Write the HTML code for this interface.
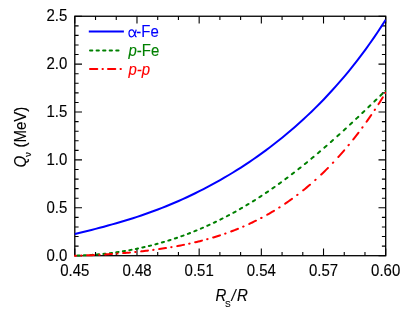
<!DOCTYPE html>
<html><head><meta charset="utf-8"><style>
html,body{margin:0;padding:0;background:#fff;}
svg{display:block;will-change:transform;opacity:0.999}
text{font-family:"Liberation Sans",sans-serif;font-size:15px;stroke:#000;stroke-width:0.12px}
</style></head><body>
<svg width="415" height="320" viewBox="0 0 415 320">
<path d="M74.80,255.7 v-7.2 M74.80,16.25 v7.2 M95.53,255.7 v-3.8 M95.53,16.25 v3.8 M116.25,255.7 v-3.8 M116.25,16.25 v3.8 M136.98,255.7 v-7.2 M136.98,16.25 v7.2 M157.71,255.7 v-3.8 M157.71,16.25 v3.8 M178.43,255.7 v-3.8 M178.43,16.25 v3.8 M199.16,255.7 v-7.2 M199.16,16.25 v7.2 M219.89,255.7 v-3.8 M219.89,16.25 v3.8 M240.61,255.7 v-3.8 M240.61,16.25 v3.8 M261.34,255.7 v-7.2 M261.34,16.25 v7.2 M282.07,255.7 v-3.8 M282.07,16.25 v3.8 M302.79,255.7 v-3.8 M302.79,16.25 v3.8 M323.52,255.7 v-7.2 M323.52,16.25 v7.2 M344.25,255.7 v-3.8 M344.25,16.25 v3.8 M364.97,255.7 v-3.8 M364.97,16.25 v3.8 M385.70,255.7 v-7.2 M385.70,16.25 v7.2 M74.8,255.70 h7.2 M385.7,255.70 h-7.2 M74.8,246.12 h3.8 M385.7,246.12 h-3.8 M74.8,236.54 h3.8 M385.7,236.54 h-3.8 M74.8,226.97 h3.8 M385.7,226.97 h-3.8 M74.8,217.39 h3.8 M385.7,217.39 h-3.8 M74.8,207.81 h7.2 M385.7,207.81 h-7.2 M74.8,198.23 h3.8 M385.7,198.23 h-3.8 M74.8,188.65 h3.8 M385.7,188.65 h-3.8 M74.8,179.08 h3.8 M385.7,179.08 h-3.8 M74.8,169.50 h3.8 M385.7,169.50 h-3.8 M74.8,159.92 h7.2 M385.7,159.92 h-7.2 M74.8,150.34 h3.8 M385.7,150.34 h-3.8 M74.8,140.76 h3.8 M385.7,140.76 h-3.8 M74.8,131.19 h3.8 M385.7,131.19 h-3.8 M74.8,121.61 h3.8 M385.7,121.61 h-3.8 M74.8,112.03 h7.2 M385.7,112.03 h-7.2 M74.8,102.45 h3.8 M385.7,102.45 h-3.8 M74.8,92.87 h3.8 M385.7,92.87 h-3.8 M74.8,83.30 h3.8 M385.7,83.30 h-3.8 M74.8,73.72 h3.8 M385.7,73.72 h-3.8 M74.8,64.14 h7.2 M385.7,64.14 h-7.2 M74.8,54.56 h3.8 M385.7,54.56 h-3.8 M74.8,44.98 h3.8 M385.7,44.98 h-3.8 M74.8,35.41 h3.8 M385.7,35.41 h-3.8 M74.8,25.83 h3.8 M385.7,25.83 h-3.8 M74.8,16.25 h7.2 M385.7,16.25 h-7.2" fill="none" stroke="#000" stroke-width="1.1"/>
<rect x="74.8" y="16.25" width="310.90" height="239.45" fill="none" stroke="#000" stroke-width="1.3"/>
<clipPath id="c"><rect x="74.20" y="0" width="311.75" height="320"/></clipPath><g clip-path="url(#c)">
<path d="M74.80,234.03 L78.95,233.02 L83.10,232.00 L87.26,230.97 L91.41,229.93 L95.56,228.87 L99.71,227.79 L103.87,226.69 L108.02,225.56 L112.17,224.41 L116.32,223.23 L120.47,222.02 L124.63,220.78 L128.78,219.50 L132.93,218.19 L137.08,216.84 L141.24,215.45 L145.39,214.02 L149.54,212.54 L153.69,211.03 L157.85,209.47 L162.00,207.86 L166.15,206.21 L170.30,204.51 L174.45,202.76 L178.61,200.96 L182.76,199.12 L186.91,197.22 L191.06,195.27 L195.22,193.27 L199.37,191.21 L203.52,189.10 L207.67,186.94 L211.82,184.72 L215.98,182.44 L220.13,180.10 L224.28,177.71 L228.43,175.26 L232.59,172.75 L236.74,170.17 L240.89,167.54 L245.04,164.84 L249.19,162.07 L253.35,159.24 L257.50,156.35 L261.65,153.38 L265.80,150.34 L269.96,147.23 L274.11,144.05 L278.26,140.79 L282.41,137.45 L286.56,134.03 L290.72,130.53 L294.87,126.94 L299.02,123.26 L303.17,119.49 L307.33,115.63 L311.48,111.67 L315.63,107.61 L319.78,103.45 L323.94,99.18 L328.09,94.80 L332.24,90.30 L336.39,85.68 L340.54,80.93 L344.70,76.06 L348.85,71.05 L353.00,65.90 L357.15,60.60 L361.31,55.15 L365.46,49.54 L369.61,43.77 L373.76,37.83 L377.91,31.71 L382.07,25.40 L385.70,19.73" fill="none" stroke="#0000ff" stroke-width="2.0"/>
<path d="M77.35,255.58 L77.40,255.58 L78.95,255.54 L79.55,255.52 M83.85,255.35 L84.14,255.34 L85.70,255.26 L86.05,255.25 M90.35,255.00 L90.37,255.00 L91.93,254.89 L92.55,254.85 M96.85,254.52 L97.12,254.50 L98.68,254.36 L99.05,254.33 M103.35,253.91 L103.87,253.86 L105.42,253.69 L105.55,253.68 M109.85,253.18 L110.09,253.15 L111.65,252.95 L112.05,252.90 M116.35,252.32 L116.84,252.25 L118.40,252.02 L118.55,252.00 M122.85,251.33 L123.07,251.29 L124.63,251.03 L125.05,250.96 M129.35,250.20 L129.82,250.12 L131.37,249.83 L131.55,249.79 M135.85,248.95 L136.05,248.91 L137.60,248.59 L138.05,248.49 M142.35,247.56 L142.79,247.46 L144.35,247.10 L144.55,247.06 M148.85,246.03 L149.02,245.99 L150.58,245.60 L151.05,245.48 M155.35,244.36 L155.77,244.25 L157.33,243.83 L157.55,243.77 M161.85,242.55 L162.00,242.51 L163.55,242.06 L164.05,241.91 M168.35,240.60 L168.74,240.48 L170.30,239.99 L170.55,239.91 M174.85,238.51 L174.97,238.47 L176.53,237.94 L177.05,237.76 M181.35,236.26 L181.72,236.13 L183.28,235.57 L183.55,235.47 M187.85,233.87 L187.95,233.83 L189.51,233.23 L190.05,233.02 M194.35,231.32 L194.70,231.18 L196.25,230.55 L196.55,230.42 M200.85,228.62 L200.92,228.59 L202.48,227.92 L203.05,227.67 M207.35,225.77 L207.67,225.62 L209.23,224.91 L209.55,224.76 M213.85,222.75 L213.90,222.73 L215.46,221.99 L216.05,221.70 M220.35,219.59 L220.65,219.44 L222.21,218.65 L222.55,218.48 M226.85,216.26 L226.88,216.24 L228.43,215.42 L229.05,215.09 M233.35,212.77 L233.62,212.62 L235.18,211.76 L235.55,211.55 M239.85,209.12 L239.85,209.12 L241.41,208.22 L242.05,207.85 M246.35,205.31 L246.60,205.16 L248.16,204.22 L248.55,203.99 M252.85,201.34 L253.35,201.03 L254.90,200.06 L255.05,199.96 M259.35,197.22 L259.58,197.07 L261.13,196.06 L261.55,195.78 M265.85,192.93 L266.32,192.61 L267.88,191.56 L268.05,191.44 M272.35,188.49 L272.55,188.35 L274.11,187.26 L274.55,186.95 M278.85,183.89 L279.30,183.57 L280.86,182.44 L281.05,182.30 M285.35,179.14 L285.53,179.01 L287.08,177.85 L287.55,177.50 M291.85,174.24 L292.27,173.92 L293.83,172.72 L294.05,172.55 M298.35,169.20 L298.50,169.08 L300.06,167.85 L300.55,167.46 M304.85,164.02 L305.25,163.69 L306.81,162.43 L307.05,162.23 M311.35,158.70 L311.48,158.59 L313.04,157.29 L313.55,156.87 M317.85,153.24 L318.23,152.93 L319.78,151.60 L320.05,151.37 M324.35,147.67 L324.45,147.58 L326.01,146.23 L326.55,145.76 M330.85,141.98 L331.20,141.67 L332.76,140.28 L333.05,140.03 M337.32,136.20 L337.43,136.10 L338.99,134.70 L339.49,134.24 M343.70,130.41 L344.18,129.97 L345.73,128.54 L345.83,128.46 M349.97,124.63 L350.41,124.22 L351.96,122.78 L352.08,122.67 M356.17,118.84 L356.63,118.40 L358.19,116.94 L358.25,116.89 M362.29,113.06 L362.34,113.01 L363.90,111.53 L364.35,111.10 M368.36,107.27 L368.57,107.07 L370.13,105.58 L370.40,105.32 M374.38,101.49 L374.80,101.09 L376.36,99.59 L376.41,99.53 M380.38,95.70 L380.51,95.57 L382.07,94.07 L382.40,93.75 M385.54,90.70 L385.63,90.61" fill="none" stroke="#008000" stroke-width="2.0" stroke-linecap="round"/>
<path d="M74.80,255.70 L75.32,255.69 L75.98,255.68 M81.18,255.54 L81.55,255.52 L81.58,255.52 M87.18,255.33 L87.26,255.32 L88.81,255.26 L90.37,255.20 L91.93,255.13 L93.49,255.06 L93.98,255.03 M99.18,254.77 L99.19,254.77 L99.58,254.75 M105.18,254.42 L105.42,254.41 L106.98,254.31 L108.54,254.21 L110.09,254.11 L111.65,254.00 L111.98,253.98 M117.18,253.60 L117.36,253.59 L117.58,253.57 M123.18,253.12 L123.59,253.08 L125.15,252.95 L126.70,252.81 L128.26,252.67 L129.82,252.53 L129.98,252.51 M135.18,252.01 L135.53,251.97 L135.58,251.97 M141.18,251.37 L141.24,251.36 L142.79,251.19 L144.35,251.01 L145.91,250.82 L147.46,250.64 L147.98,250.57 M153.18,249.91 L153.58,249.86 M159.18,249.08 L159.40,249.05 L160.96,248.82 L162.52,248.59 L164.07,248.35 L165.63,248.10 L165.98,248.05 M171.18,247.19 L171.34,247.16 L171.58,247.12 M177.18,246.12 L177.57,246.04 L179.13,245.75 L180.68,245.45 L182.24,245.14 L183.80,244.83 L183.98,244.79 M189.18,243.69 L189.51,243.62 L189.58,243.60 M195.18,242.32 L195.22,242.31 L196.77,241.93 L198.33,241.55 L199.89,241.16 L201.44,240.76 L201.98,240.63 M207.18,239.23 L207.58,239.12 M213.18,237.49 L213.38,237.43 L214.94,236.96 L216.50,236.48 L218.05,235.98 L219.61,235.48 L219.98,235.36 M225.18,233.61 L225.32,233.56 L225.58,233.47 M231.18,231.44 L231.55,231.30 L233.10,230.71 L234.66,230.11 L236.22,229.49 L237.78,228.87 L237.98,228.79 M243.18,226.61 L243.49,226.48 L243.58,226.44 M249.18,223.93 L249.19,223.93 L250.75,223.20 L252.31,222.47 L253.87,221.72 L255.42,220.95 L255.98,220.68 M261.18,218.01 L261.58,217.80 M267.18,214.75 L267.36,214.65 L268.92,213.77 L270.47,212.87 L272.03,211.96 L273.59,211.03 L273.98,210.79 M279.18,207.57 L279.30,207.50 L279.58,207.32 M285.18,203.64 L285.53,203.41 L287.08,202.34 L288.64,201.26 L290.20,200.17 L291.76,199.05 L291.98,198.89 M297.18,195.04 L297.46,194.82 L297.58,194.73 M303.18,190.35 L303.69,189.93 L305.25,188.67 L306.81,187.38 L308.36,186.07 L309.92,184.75 L309.98,184.70 M315.18,180.13 L315.58,179.77 M321.18,174.58 L321.34,174.43 L322.90,172.94 L324.45,171.43 L326.01,169.89 L327.57,168.34 L327.93,167.97 M332.87,162.88 L333.24,162.49 M338.32,157.00 L338.47,156.83 L340.03,155.10 L341.58,153.34 L343.14,151.56 L344.20,150.33 M348.50,145.24 L348.83,144.85 M353.28,139.36 L353.52,139.06 L355.08,137.08 L356.63,135.08 L358.19,133.06 L358.47,132.69 M362.30,127.60 L362.34,127.53 L362.58,127.21 M366.56,121.72 L367.01,121.08 L368.57,118.87 L370.13,116.64 L371.22,115.05 M374.67,109.96 L374.80,109.76 L374.93,109.57 M378.53,104.08 L378.95,103.43 L380.51,100.99 L382.07,98.53 L382.77,97.41 M385.49,93.00 L385.55,92.91" fill="none" stroke="#ff0000" stroke-width="2.0" stroke-linecap="round"/></g>
<text transform="translate(74.80,275.7) scale(1,1.05)" text-anchor="middle">0.45</text>
<text transform="translate(136.98,275.7) scale(1,1.05)" text-anchor="middle">0.48</text>
<text transform="translate(199.16,275.7) scale(1,1.05)" text-anchor="middle">0.51</text>
<text transform="translate(261.34,275.7) scale(1,1.05)" text-anchor="middle">0.54</text>
<text transform="translate(323.52,275.7) scale(1,1.05)" text-anchor="middle">0.57</text>
<text transform="translate(385.70,275.7) scale(1,1.05)" text-anchor="middle">0.60</text>
<text transform="translate(67.3,260.50) scale(1,1.05)" text-anchor="end">0.0</text>
<text transform="translate(67.3,212.61) scale(1,1.05)" text-anchor="end">0.5</text>
<text transform="translate(67.3,164.72) scale(1,1.05)" text-anchor="end">1.0</text>
<text transform="translate(67.3,116.83) scale(1,1.05)" text-anchor="end">1.5</text>
<text transform="translate(67.3,68.94) scale(1,1.05)" text-anchor="end">2.0</text>
<text transform="translate(67.3,21.05) scale(1,1.05)" text-anchor="end">2.5</text>
<path d="M88.8,31.6 H123.9" stroke="#0000ff" stroke-width="2.0"/>
<path d="M90,50.4 H122" stroke="#008000" stroke-width="2.0" stroke-linecap="round" stroke-dasharray="2.3 4.26"/>
<path d="M90,68.9 H122" stroke="#ff0000" stroke-width="2.0" stroke-linecap="round" stroke-dasharray="7.3 5.2 0.4 5.1"/>
<text transform="translate(128.5,36.9) scale(1,1.05)" fill="#0000ff" style="stroke:#0000ff"><tspan x="7.8">-Fe</tspan></text>
<text transform="translate(128.5,55.7) scale(1,1.05)" fill="#008000" style="stroke:#008000"><tspan font-style="italic">p</tspan>-Fe</text>
<text transform="translate(128.5,74.8) scale(1,1.05)" fill="#ff0000" style="stroke:#ff0000" font-style="italic">p-p</text>
<path d="M136.2,29.7 C135.6,32.5 134.3,36.8 131.7,36.8 C129.7,36.8 129.0,35.0 129.0,33.2 C129.0,31.3 129.9,29.8 131.7,29.8 C134.2,29.8 134.8,33.5 135.2,35.4 C135.4,36.4 135.8,36.9 136.6,36.7" fill="none" stroke="#0000ff" stroke-width="1.25"/>
<text transform="translate(215.6,301.3) scale(1,1.05)"><tspan x="0" font-style="italic">R</tspan><tspan x="9.4" font-size="8.5" dy="5.4">S</tspan><tspan x="15.9" dy="-5.4" font-style="italic">/</tspan><tspan x="21.3" font-style="italic">R</tspan></text>
<text transform="translate(26.0,167.6) rotate(-90) scale(1,1.05)"><tspan font-style="italic">Q</tspan><tspan font-size="9.5" dy="5.2" dx="-1">ν</tspan><tspan dy="-5.2" dx="0.5"> (MeV)</tspan></text>
</svg></body></html>
